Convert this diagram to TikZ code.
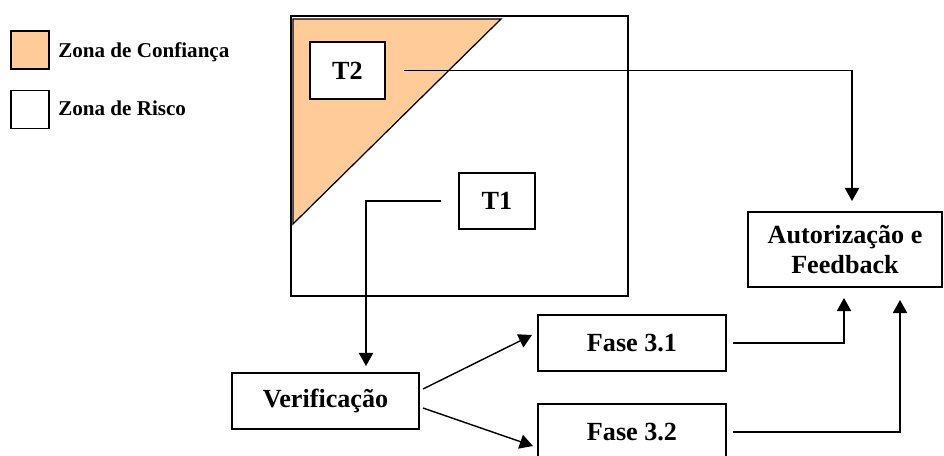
\documentclass[tikz,border=0pt]{standalone}
\usepackage{fontspec}
\setmainfont{Liberation Serif}
\usetikzlibrary{arrows.meta, positioning, calc}
\definecolor{confiancacolor}{RGB}{255,204,153}

\begin{document}
\begin{tikzpicture}[
    x=0.025cm, y=-0.025cm,
    caixa/.style={draw, line width=1.4pt, fill=white, inner sep=0pt, align=center, font=\fontsize{18.6}{21.5}\selectfont\bfseries},
    legenda/.style={draw, line width=1.4pt, minimum width=0.95cm, minimum height=0.95cm, inner sep=0pt},
    rotulo/.style={anchor=west, inner sep=0pt, font=\fontsize{15}{17}\selectfont\bfseries},
    arrow/.style={-{Triangle[length=3.3mm, width=3.6mm]}, line width=1pt}
]
    \useasboundingbox (0,0) rectangle (944,455);

    % Legenda
    \node[legenda, fill=confiancacolor] (legconf) at (30,50) {};
    \node[legenda, fill=white] (legrisco) at (30,109.5) {};
    \node[rotulo] (txtconf) at (58,52) {Zona de Confiança};
    \node[rotulo] (txtrisco) at (58,108) {Zona de Risco};

    % Zonas
    \node[draw, line width=1.4pt, minimum width=8.425cm, minimum height=7cm, inner sep=0pt] (zona) at (459.5,156) {};
    \draw[line width=0.9pt, fill=confiancacolor] (293,19) -- (501,19) -- (293,224) -- cycle;

    % Caixas
    \node[caixa, minimum width=1.875cm, minimum height=1.425cm] (t2) at (347.5,70.5) {T2};
    \node[caixa, minimum width=1.9cm, minimum height=1.4cm] (t1) at (497,201) {T1};
    \node[caixa, minimum width=4.675cm, minimum height=1.4cm] (verif) at (325.5,401) {Verificação};
    \node[caixa, minimum width=4.7cm, minimum height=1.4cm] (fase31) at (632,343) {Fase 3.1};
    \node[caixa, minimum width=4.7cm, minimum height=1.4cm] (fase32) at (632,432) {Fase 3.2};
    \node[caixa, minimum width=4.85cm, minimum height=1.875cm] (autor) at (845,249.5) {Autorização e\\Feedback};

    % Setas
    \draw[arrow] ([xshift=0.45cm]t2.east) -| ([xshift=0.175cm, yshift=0.25cm]autor.north);
    \draw[arrow] ([xshift=-0.425cm]t1.west) -| ([xshift=1.0125cm, yshift=0.15cm]verif.north);
    \draw[arrow] ([xshift=0.075cm, yshift=0.3cm]verif.east) -- ([xshift=-0.125cm, yshift=0.2cm]fase31.west);
    \draw[arrow] ([xshift=0.075cm, yshift=-0.175cm]verif.east) -- ([xshift=-0.1cm, yshift=-0.35cm]fase32.west);
    \draw[arrow] ([xshift=0.15cm]fase31.east) -| ([xshift=-0.025cm, yshift=-0.25cm]autor.south);
    \draw[arrow] ([xshift=0.15cm]fase32.east) -| ([xshift=1.375cm, yshift=-0.3cm]autor.south);
\end{tikzpicture}
\end{document}
